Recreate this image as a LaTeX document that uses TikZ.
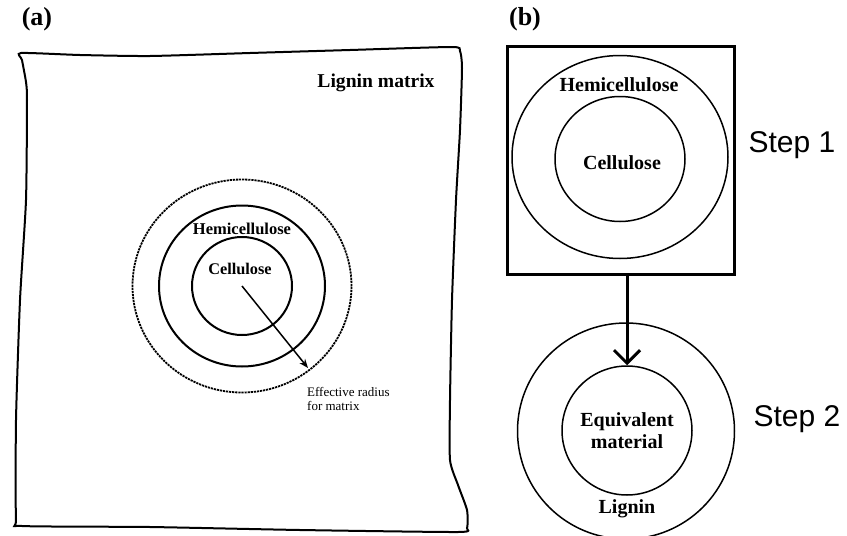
\documentclass[tikz,border=0pt]{standalone}
\usepackage{fontspec}
\setmainfont{Liberation Serif}
\newfontfamily\stepfont{Liberation Sans}
\usetikzlibrary{shapes.geometric,arrows.meta}
\begin{document}
\begin{tikzpicture}[x=1pt,y=-1pt,
  ring/.style={ellipse,draw,inner sep=0pt},
  lab/.style={font=\fontsize{#1}{#1}\selectfont\bfseries,inner sep=0pt},
  steplab/.style={font=\fontsize{30}{30}\selectfont\stepfont,inner sep=0pt}]
\useasboundingbox (0,0) rectangle (847,536);
% panel labels
\node[lab=26] (la) at (37,19) {(a)};
\node[lab=26] (lb) at (525,19) {(b)};
% wobbly matrix frame
\draw[line width=2pt] plot[smooth cycle,tension=0.35] coordinates {
 (21,53) (80,55) (150,56) (250,53) (350,50) (452,47) (460,51) (462,68)
 (460,130) (456,200) (452,300) (450,400) (450,460) (458,485) (467,510)
 (467,528) (458,532) (300,530) (150,527) (22,526) (16,519) (16,420)
 (20,300) (26,200) (27,100) (26,82) (22,60)};
\node[lab=19.6] (lm) at (376,83) {Lignin matrix};
% panel (a) rings
\coordinate (ca) at (242,286);
\node[ring,line width=2pt,minimum width=100pt,minimum height=98pt] (acel) at (ca) {};
\node[ring,line width=2pt,minimum width=166pt,minimum height=161pt] (ahem) at (ca) {};
\node[ring,line width=1.8pt,dash pattern=on 2.2pt off 0.9pt,minimum width=219pt,minimum height=213pt] (aeff) at (ca) {};
\node[lab=16.5] (tah) at (242,229) {Hemicellulose};
\node[lab=16.3] (tac) at (240,269) {Cellulose};
\coordinate (aend) at (308,368);
\draw[line width=1.5pt,-{Stealth[length=9pt,width=7pt]}] (ca) -- (aend);
\node[font=\fontsize{13}{14}\selectfont,align=left,anchor=north west,inner sep=0pt] (teff) at (307,387) {Effective radius\\for matrix};
% panel (b) step 1
\node[draw,line width=3.5pt,minimum width=227pt,minimum height=228pt,inner sep=0pt] (sq) at (621,160.5) {};
\node[ring,line width=1.5pt,minimum width=216pt,minimum height=203pt] (bhem) at (620,157) {};
\node[ring,line width=1.5pt,minimum width=130pt,minimum height=125pt] (bcel) at (620,159) {};
\node[lab=20] (tbh) at (619,85) {Hemicellulose};
\node[lab=20] (tbc) at (622,163) {Cellulose};
\node[steplab] (s1) at (792,145) {Step 1};
% panel (b) step 2
\node[ring,line width=1.5pt,minimum width=217pt,minimum height=216pt] (blig) at (626,431) {};
\node[ring,line width=1.5pt,minimum width=130pt,minimum height=129pt] (beq) at (627,430.5) {};
\node[align=center,inner sep=0pt,font=\fontsize{20}{22}\selectfont\bfseries] (tbe) at (627,431) {Equivalent\\material};
\node[lab=20] (tbl) at (627,509) {Lignin};
\node[steplab] (s2) at (797,419) {Step 2};
% step arrow
\draw[line width=3pt,-{Straight Barb[length=13pt,width=26pt,line width=3pt]}] (sq.south -| beq.north) -- (beq.north);
\end{tikzpicture}
\end{document}
